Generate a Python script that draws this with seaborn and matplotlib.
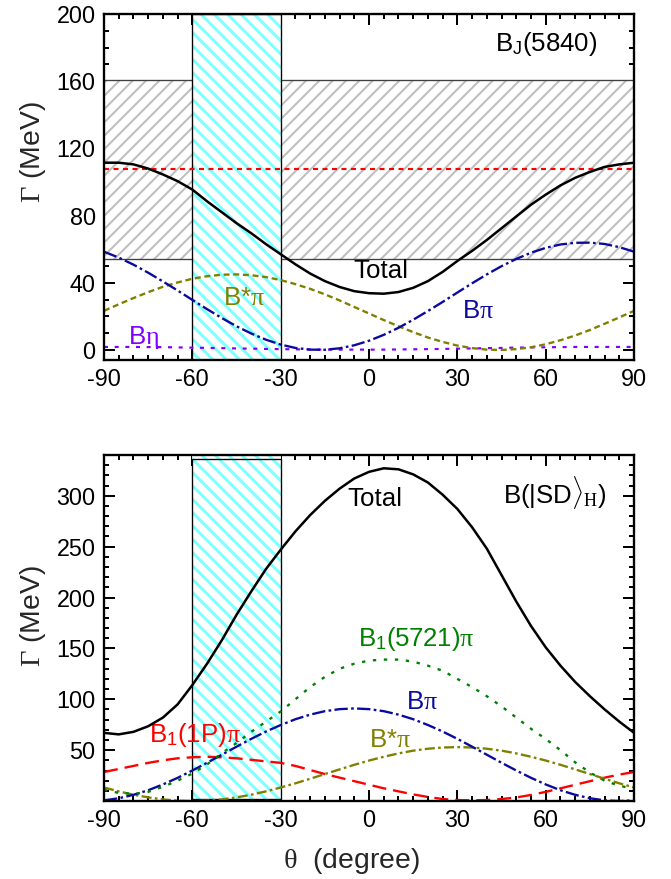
import matplotlib
matplotlib.use("Agg")
import numpy as np
import pandas as pd
import matplotlib.pyplot as plt
from matplotlib.ticker import MultipleLocator
import seaborn as sns

# ---------------- data ----------------
theta = list(range(-90, 91, 5))

# top panel: B_J(5840)
top_total = [111.5, 111.5, 110.5, 108, 104.5, 100.5, 95.5, 88.5, 82, 75.5, 69.5, 63, 57, 51, 45.5,
             41, 37.5, 35, 33.8, 33.5, 34.5, 37, 41, 46.5, 53, 59, 65.5, 72.5, 79.5, 86.5, 92.5,
             98, 102.5, 106, 109, 110.5, 111.5]
top_bpi = [58.5, 55.0, 50.8, 46.0, 40.8, 35.4, 29.8, 24.3, 19.0, 14.1, 9.8, 6.1, 3.2, 1.2, 0.2,
           0.1, 1.0, 2.8, 5.5, 9.0, 13.2, 18.0, 23.2, 28.6, 34.2, 39.7, 45.0, 49.9, 54.2, 57.9,
           60.8, 62.8, 63.8, 63.9, 63.1, 61.2, 58.5]
top_bstarpi = [23.3, 27.2, 30.9, 34.4, 37.6, 40.2, 42.4, 43.9, 44.8, 45.0, 44.5, 43.4, 41.6, 39.2,
               36.4, 33.1, 29.5, 25.6, 21.7, 17.8, 14.1, 10.6, 7.4, 4.8, 2.6, 1.1, 0.2, 0.0, 0.5,
               1.6, 3.4, 5.8, 8.6, 11.9, 15.6, 19.4, 23.3]
top_beta = [1.8, 1.8, 1.8, 1.7, 1.7, 1.5, 1.4, 1.2, 1.1, 0.9, 0.8, 0.6, 0.5, 0.4, 0.3, 0.2, 0.2,
            0.2, 0.2, 0.2, 0.3, 0.4, 0.5, 0.6, 0.8, 0.9, 1.1, 1.2, 1.4, 1.5, 1.6, 1.7, 1.8, 1.8,
            1.8, 1.8, 1.8]
exp_center = 108
exp_band = [54, 161]

# bottom panel: B(|SD>_H)
bot_total = [67, 65.5, 68, 73.5, 82, 95, 114, 135, 158, 183, 206, 228, 247, 265, 281, 295, 307,
             317, 323.5, 327, 326, 321, 313, 301, 287, 269, 248, 222, 196, 172, 151, 133, 117,
             103, 90, 78, 67]
bot_b1_5721 = [11, 8, 7, 9, 14, 20, 27, 36, 47, 57, 68, 78, 88, 100, 112, 122, 130, 135, 138,
               139, 139, 137, 133, 128, 120, 112, 103, 93, 82, 71, 61, 50, 38, 28, 20, 15, 12]
bot_bpi = [0.7, 2.7, 6.1, 10.6, 16.3, 22.8, 30, 37.6, 45.5, 53.4, 61.1, 68.3, 74.7, 80.4, 84.9,
           88.3, 90.3, 91, 90.3, 88.3, 84.9, 80.4, 74.7, 68.3, 61.1, 53.4, 45.5, 37.6, 30, 22.8,
           16.3, 10.6, 6.1, 2.7, 0.7, 0, 0.7]
bot_bstarpi = [13.3, 9.5, 6.2, 3.6, 1.6, 0.4, 0, 0.4, 1.6, 3.6, 6.2, 9.5, 13.3, 17.4, 21.9, 26.5,
               31.1, 35.6, 39.8, 43.5, 46.8, 49.5, 51.4, 52.6, 53, 52.6, 51.4, 49.5, 46.8, 43.5,
               39.8, 35.6, 31.1, 26.5, 21.9, 17.4, 13.3]
bot_b1_1p = [28.5, 31.5, 34.5, 37.5, 40, 42, 43, 43.5, 43, 42, 40.5, 39, 37.5, 34.5, 30.5, 26.5,
             23, 19.5, 16, 12.5, 9.5, 6.5, 4, 2, 1, 0.7, 1, 2, 3.5, 6, 9, 12.5, 16, 19.5, 23, 26,
             28.5]

mixing_window = [-60, -30]
x_ticks = [-90, -60, -30, 0, 30, 60, 90]
top_yticks = [0, 40, 80, 120, 160, 200]
bot_yticks = [50, 100, 150, 200, 250, 300]

# ---------------- style ----------------
sns.set_theme(style="ticks")
plt.rcParams.update({
    "font.family": ["Liberation Sans", "DejaVu Sans"],
    "mathtext.fontset": "custom",
    "mathtext.rm": "Liberation Serif",
    "mathtext.it": "Liberation Serif",
    "mathtext.bf": "Liberation Serif:bold",
    "mathtext.sf": "Liberation Sans",
    "lines.scale_dashes": False,
    "axes.unicode_minus": False,
    "axes.linewidth": 1.4,
    "axes.edgecolor": "black",
    "xtick.color": "black",
    "ytick.color": "black",
    "text.color": "black",
})

DPI = 120
fig = plt.figure(figsize=(671 / DPI, 879 / DPI), dpi=DPI)
ax1 = fig.add_axes([0.155, 0.5904, 0.790, 0.3936])
ax2 = fig.add_axes([0.155, 0.0887, 0.790, 0.3936])

BLUE = "#0a0a9c"
OLIVE = "#808000"
PURPLE = "#8000ff"
GREEN = "#008000"
RED = "#ff0000"
CYAN_H = "#80ffff"


def hatch_band(ax, lo, hi, vertical, color, hatch, hlw, z):
    plt.rcParams["hatch.linewidth"] = hlw
    if vertical:
        p = ax.axvspan(lo, hi, facecolor="white", edgecolor=color, hatch=hatch, lw=0, zorder=z)
    else:
        p = ax.axhspan(lo, hi, facecolor="white", edgecolor=color, hatch=hatch, lw=0, zorder=z)
    if hasattr(p, "set_hatch_linewidth"):
        p.set_hatch_linewidth(hlw)
    return p


def line(ax, y, color, lw, ls, z=4):
    sns.lineplot(x=theta, y=y, ax=ax, color=color, linewidth=lw, linestyle=ls,
                 errorbar=None, sort=False, zorder=z)


# ---------------- top panel ----------------
hatch_band(ax1, exp_band[0], exp_band[1], False, "#bdbdbd", "///", 1.2, 1)
for v in exp_band:
    ax1.axhline(v, color="#404040", lw=0.8, zorder=1.5)
hatch_band(ax1, mixing_window[0], mixing_window[1], True, CYAN_H, "\\\\\\", 1.8, 2)
ax1.axvspan(mixing_window[0], mixing_window[1], fill=False, edgecolor="black", lw=0.8, zorder=2.5)
ax1.axhline(exp_center, color=RED, lw=1.3, linestyle=(0, (3.0, 2.7)), zorder=3)

line(ax1, top_beta, PURPLE, 1.3, (0, (2.4, 4.0)))
line(ax1, top_bstarpi, OLIVE, 1.4, (0, (3.6, 2.2)))
line(ax1, top_bpi, BLUE, 1.4, (0, (8.0, 2.0, 1.6, 2.0)))
line(ax1, top_total, "black", 1.5, "-")

ax1.set_xlim(-90, 90)
ax1.set_ylim(-6, 200)
ax1.set_yticks(top_yticks)
ax1.yaxis.set_minor_locator(MultipleLocator(10))

tfs = 15.5
ax1.text(60, 182, r"B$_{\mathsf{J}}$(5840)", fontsize=tfs, ha="center", va="center")
ax1.text(4, 47, "Total", fontsize=tfs, ha="center", va="center")
ax1.text(-42.5, 31, r"B*$\pi$", fontsize=tfs, ha="center", va="center", color=OLIVE)
ax1.text(37, 23, r"B$\pi$", fontsize=tfs, ha="center", va="center", color=BLUE)
ax1.text(-76.5, 7.7, r"B$\eta$", fontsize=tfs, ha="center", va="center", color=PURPLE)

# ---------------- bottom panel ----------------
hatch_band(ax2, mixing_window[0], mixing_window[1], True, CYAN_H, "\\\\\\", 1.8, 2)
ax2.axvspan(mixing_window[0], mixing_window[1], ymin=0.006, ymax=0.99, fill=False,
            edgecolor="black", lw=0.8, zorder=2.5)

line(ax2, bot_b1_1p, RED, 1.4, (0, (8.4, 4.2)))
line(ax2, bot_bstarpi, OLIVE, 1.4, (0, (6.0, 2.0, 1.6, 2.0)))
line(ax2, bot_bpi, BLUE, 1.4, (0, (8.0, 2.0, 1.6, 2.0)))
line(ax2, bot_b1_5721, GREEN, 1.4, (0, (2.0, 4.6)))
line(ax2, bot_total, "black", 1.5, "-")

ax2.set_xlim(-90, 90)
ax2.set_ylim(0, 340)
ax2.set_yticks(bot_yticks)
ax2.yaxis.set_minor_locator(MultipleLocator(10))

ax2.text(63, 303, r"B(|SD$\rangle_{\mathrm{H}}$)", fontsize=tfs, ha="center", va="center")
ax2.text(2, 296.5, "Total", fontsize=tfs, ha="center", va="center")
ax2.text(16, 159, r"B$_{\mathsf{1}}$(5721)$\pi$", fontsize=tfs, ha="center", va="center", color=GREEN)
ax2.text(18, 97.5, r"B$\pi$", fontsize=tfs, ha="center", va="center", color=BLUE)
ax2.text(7, 59.6, r"B*$\pi$", fontsize=tfs, ha="center", va="center", color=OLIVE)
ax2.text(-59, 64.5, r"B$_{\mathsf{1}}$(1P)$\pi$", fontsize=tfs, ha="center", va="center", color=RED)

# ---------------- common axes styling ----------------
for ax in (ax1, ax2):
    ax.set_xticks(x_ticks)
    ax.xaxis.set_minor_locator(MultipleLocator(5))
    ax.tick_params(which="both", direction="in", top=True, right=True, width=1.2,
                   labelsize=14, pad=5)
    ax.tick_params(which="major", length=6.4)
    ax.tick_params(which="minor", length=3.2)
    for s in ax.spines.values():
        s.set_linewidth(1.4)
        s.set_zorder(10)
        s.set_visible(True)
    ax.set_xlabel("")
    ax.set_ylabel(r"$\Gamma$ (MeV)", fontsize=17)

ax1.yaxis.set_label_coords(-0.106, 0.60)
ax2.yaxis.set_label_coords(-0.106, 0.535)
ax2.set_xlabel(r"$\theta$  (degree)", fontsize=17)
ax2.xaxis.set_label_coords(0.466, -0.13)

fig.savefig("out.png", dpi=DPI, facecolor="white")
